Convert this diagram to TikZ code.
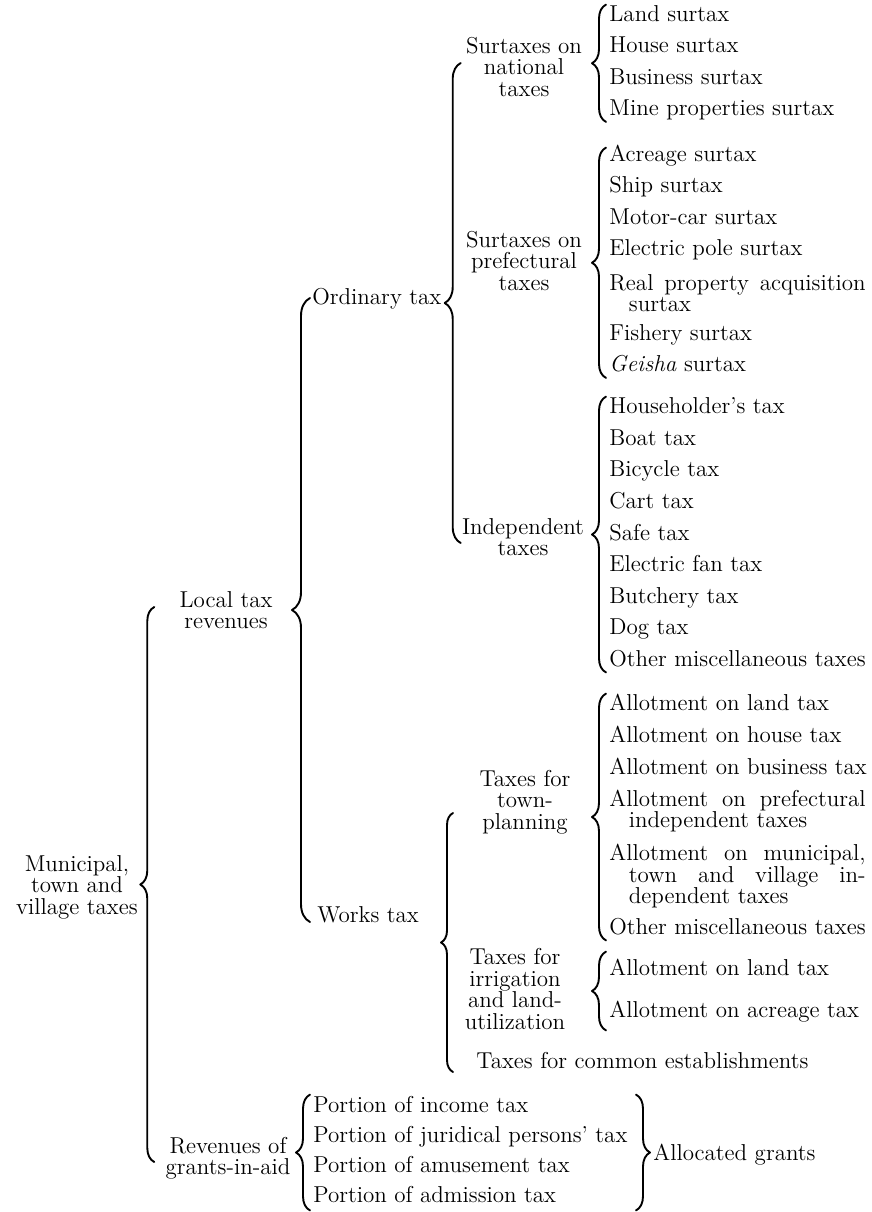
\documentclass[tikz,border=0pt]{standalone}
\usetikzlibrary{decorations.pathreplacing,calc}
\newlength\colw
\newcommand\tfont{\fontsize{11.5}{10.75}\selectfont}
\newcommand\jline[1]{\makebox[\colw][s]{#1}}
\newcommand\iline[1]{\hspace*{.85em}\makebox[\dimexpr\colw-.85em\relax][s]{#1}}
\begin{document}
\settowidth\colw{\tfont Other miscellaneous taxes}
\begin{tikzpicture}[x=0.5pt,y=-0.5pt,line cap=round,line join=round,
    leaf/.style={anchor=west,font=\tfont,inner xsep=0pt,inner ysep=0.5pt,text height=7.5pt,text depth=2.5pt},
    leafs/.style={anchor=west,font=\tfont,inner sep=0pt,align=left},
    grp/.style={font=\tfont,inner sep=0pt,align=center},
    lbr/.style={decorate,decoration={brace,amplitude=#1},line width=0.95pt},
    lbr/.default=7pt]
  \useasboundingbox (0,0) rectangle (872,1212);

  % surtaxes on national taxes
  \foreach \t/\y [count=\i] in {Land surtax/16, House surtax/47.5, Business surtax/79, Mine properties surtax/110.5}
    \node[leaf] (nat\i) at (609,\y) {\t};

  % surtaxes on prefectural taxes
  \foreach \t/\y [count=\i] in {Acreage surtax/156, Ship surtax/187.5, Motor-car surtax/219, Electric pole surtax/250.5}
    \node[leaf] (pre\i) at (609,\y) {\t};
  \node[leafs] (pre5) at (609,293) {\jline{Real property acquisition}\\\hspace*{.85em}surtax};
  \node[leaf] (pre6) at (609,335) {Fishery surtax};
  \node[leaf] (pre7) at (609,366.5) {\textit{Geisha} surtax};

  % independent taxes
  \foreach \t/\y [count=\i] in {Householder's tax/408, Boat tax/440, Bicycle tax/471.5, Cart tax/503, Safe tax/535, Electric fan tax/566.5, Butchery tax/598, Dog tax/629.5, Other miscellaneous taxes/661}
    \node[leaf] (ind\i) at (609,\y) {\t};

  % town-planning
  \foreach \t/\y [count=\i] in {Allotment on land tax/705, Allotment on house tax/737, Allotment on business tax/769}
    \node[leaf] (tp\i) at (609,\y) {\t};
  \node[leafs] (tp4) at (609,811) {\jline{Allotment on prefectural}\\\hspace*{.85em}independent taxes};
  \node[leafs] (tp5) at (609,876.5) {\jline{Allotment on municipal,}\\\iline{town and village in-}\\\hspace*{.85em}dependent taxes};
  \node[leaf] (tp6) at (609,929) {Other miscellaneous taxes};

  % irrigation and land-utilization
  \node[leaf] (irr1) at (609,970) {Allotment on land tax};
  \node[leaf] (irr2) at (609,1012) {Allotment on acreage tax};

  % grants-in-aid
  \foreach \t/\y [count=\i] in {income tax/1107, juridical persons' tax/1137, amusement tax/1167, admission tax/1197}
    \node[leaf] (por\i) at (313,\y) {Portion of \t};

  % group labels
  \node[grp] (natlab) at (524,67) {Surtaxes on\\national\\taxes};
  \node[grp] (prelab) at (524,261) {Surtaxes on\\prefectural\\taxes};
  \node[grp] (indlab) at (523,537) {Independent\\taxes};
  \node[grp] (tplab) at (525,802) {Taxes for\\town-\\planning};
  \node[grp] (irrlab) at (515,989) {Taxes for\\irrigation\\and land-\\utilization};
  \node[leaf] (common) at (476,1063) {Taxes for common establishments};
  \node[leaf] (ordinary) at (312,299) {Ordinary tax};
  \node[leaf] (works) at (317,917) {Works tax};
  \node[grp] (local) at (226,610) {Local tax\\revenues};
  \node[grp] (muni) at (77,887) {Municipal,\\town and\\village taxes};
  \node[grp] (revenues) at (228,1158) {Revenues of\\grants-in-aid};
  \node[leaf] (allocated) at (653,1155) {Allocated grants};

  % braces
  \draw[lbr] ($(nat4.south west)+(-3,0)$) -- ($(nat1.north west)+(-3,0)$);
  \draw[lbr] ($(pre7.south west)+(-3,0)$) -- ($(pre1.north west)+(-3,3)$);
  \draw[lbr] ($(ind9.south west)+(-3,0)$) -- ($(ind1.north west)+(-3,0)$);
  \draw[lbr] ($(tp6.south west)+(-3,0)$) -- ($(tp1.north west)+(-3,0)$);
  \draw[lbr] ($(irr2.south west)+(-3,7)$) -- ($(irr1.north west)+(-3,-7)$);
  \draw[lbr] ($(por4.south west)+(-3,2)$) -- ($(por1.north west)+(-3,-1)$);
  \draw[lbr] ($(allocated.west |- por1.north)+(-17,-1)$) -- ($(allocated.west |- por4.south)+(-17,2)$);
  \draw[lbr=8pt] ($(indlab.center -| ordinary.east)+(19,6)$) -- ($(natlab.center -| ordinary.east)+(19,-4)$);
  \draw[lbr=9pt] ($(works.west)+(-7,5)$) -- ($(ordinary.west)+(-2,-1)$);
  \draw[lbr=6pt] ($(common.west)+(-23,9)$) -- ($(common.west |- tplab.center)+(-23,11)$);
  \draw[lbr] ($(revenues.west)+(-11,4)$) -- ($(revenues.west |- local.center)+(-11,-3)$);
\end{tikzpicture}
\end{document}
